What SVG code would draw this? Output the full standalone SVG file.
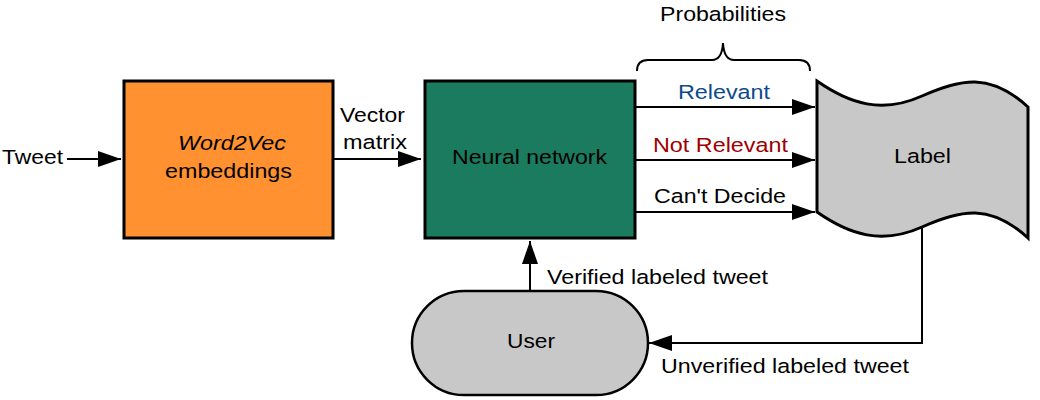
<svg xmlns="http://www.w3.org/2000/svg" width="1040" height="400" viewBox="0 0 1040 400">
<defs>
<style>
text{font-family:"Liberation Sans",Arial,sans-serif;font-size:20.5px;fill:#000}
.ln{stroke:#000;stroke-width:2;fill:none}
.box{stroke:#000;stroke-width:3}
</style>
<marker id="ah" markerUnits="userSpaceOnUse" markerWidth="24" markerHeight="16" refX="23" refY="8" orient="auto">
<path d="M0,0 L23,8 L0,16 Z" fill="#000"/>
</marker>
</defs>
<rect width="1040" height="400" fill="#fff"/>
<g id="tweet-label">
<text x="2" y="164" textLength="61" lengthAdjust="spacingAndGlyphs">Tweet</text>
</g>
<g id="word2vec">
<rect class="box" x="124" y="81" width="209" height="157" fill="#FF9130"/>
<text x="178" y="150" textLength="108" lengthAdjust="spacingAndGlyphs" font-style="italic">Word2Vec</text>
<text x="165" y="178" textLength="127" lengthAdjust="spacingAndGlyphs">embeddings</text>
</g>
<g id="neural-network">
<rect class="box" x="425" y="81" width="210" height="157" fill="#1B7B5F"/>
<text x="452" y="164" textLength="155" lengthAdjust="spacingAndGlyphs">Neural network</text>
</g>
<g id="label">
<path class="box" d="M817,81 C850,104 882,114 922,96 C960,79 990,72 1028,107 L1028,238 C990,203 960,210 922,227 C882,245 850,235 817,212 Z" fill="#C8C8C8" stroke-width="2.5"/>
<text x="894" y="163" textLength="57" lengthAdjust="spacingAndGlyphs">Label</text>
</g>
<g id="user">
<rect x="412" y="291" width="236" height="104" rx="52" ry="52" fill="#C8C8C8" stroke="#000" stroke-width="2.5"/>
<text x="507" y="348" textLength="48" lengthAdjust="spacingAndGlyphs">User</text>
</g>
<g id="probabilities">
<path class="ln" d="M637,71 Q637,60 648,60 L712,60 Q722,60 723,43 Q724,60 734,60 L799,60 Q810,60 810,71"/>
<text x="660" y="21" textLength="126" lengthAdjust="spacingAndGlyphs">Probabilities</text>
</g>
<g id="connectors">
<line class="ln" x1="67" y1="159" x2="121" y2="159" marker-end="url(#ah)"/>
<line class="ln" x1="333" y1="159" x2="421" y2="159" marker-end="url(#ah)"/>
<text x="340" y="122" textLength="65" lengthAdjust="spacingAndGlyphs">Vector</text>
<text x="343" y="149" textLength="64" lengthAdjust="spacingAndGlyphs">matrix</text>
<line class="ln" x1="635" y1="107" x2="815" y2="107" marker-end="url(#ah)"/>
<text x="678" y="99" textLength="92" lengthAdjust="spacingAndGlyphs" style="fill:#0D4A8C">Relevant</text>
<line class="ln" x1="635" y1="160" x2="815" y2="160" marker-end="url(#ah)"/>
<text x="653" y="152" textLength="135" lengthAdjust="spacingAndGlyphs" style="fill:#A00000">Not Relevant</text>
<line class="ln" x1="635" y1="212" x2="815" y2="212" marker-end="url(#ah)"/>
<text x="654" y="203" textLength="132" lengthAdjust="spacingAndGlyphs">Can't Decide</text>
<polyline class="ln" points="922,227 922,343 649,343" marker-end="url(#ah)"/>
<text x="661" y="373" textLength="248" lengthAdjust="spacingAndGlyphs">Unverified labeled tweet</text>
<line class="ln" x1="530" y1="291" x2="530" y2="241" marker-end="url(#ah)"/>
<text x="547" y="284" textLength="221" lengthAdjust="spacingAndGlyphs">Verified labeled tweet</text>
</g>
</svg>
